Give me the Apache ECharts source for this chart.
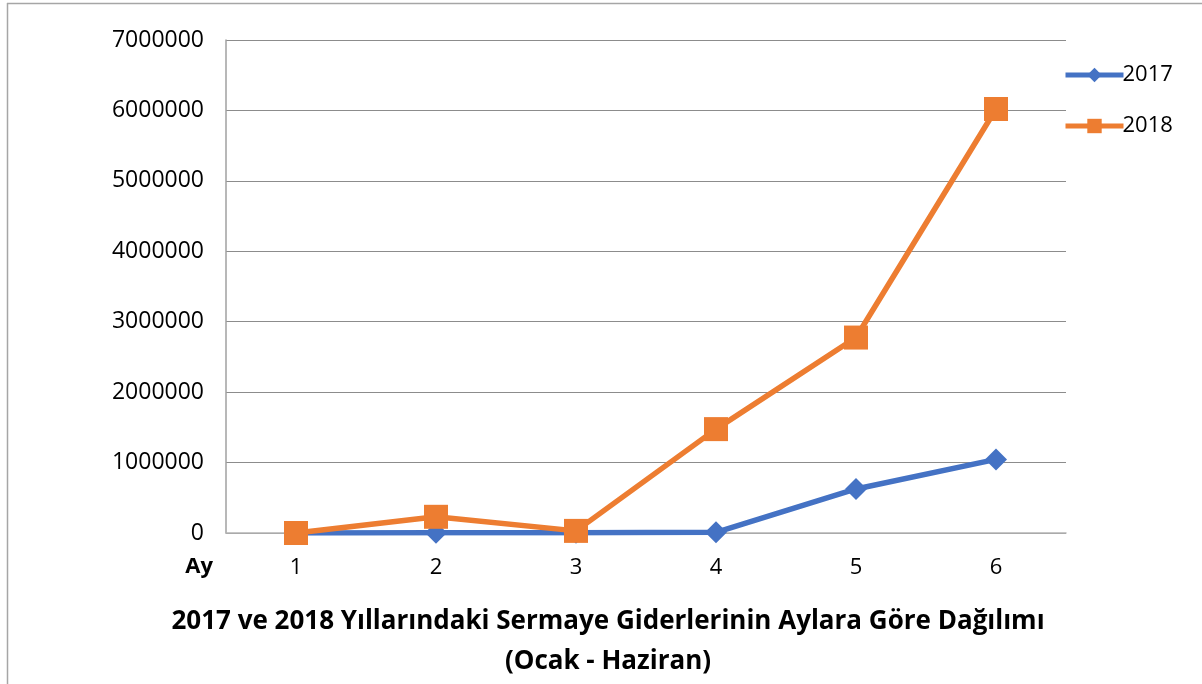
<!DOCTYPE html>
<html>
<head>
<meta charset="utf-8">
<script src="https://cdn.jsdelivr.net/npm/echarts@6/dist/echarts.min.js"></script>
<style>
  html, body { margin: 0; padding: 0; background: #fff; }
  #chart { width: 1202px; height: 684px; }
</style>
</head>
<body>
<div id="chart"></div>
<script>
var months = ['1', '2', '3', '4', '5', '6']
var values2017 = [0, 5000, 5000, 10000, 625000, 1045000]
var values2018 = [0, 230000, 30000, 1475000, 2775000, 6020000]
var yTicks = [0, 1000000, 7000000]

var font = 'Open Sans, Liberation Sans, sans-serif'
var chart = echarts.init(document.getElementById('chart'))
var option = {
  animation: false,
  title: {
    text: '2017 ve 2018 Yıllarındaki Sermaye Giderlerinin Aylara Göre Dağılımı\n(Ocak - Haziran)',
    left: 603,
    top: 597,
    textAlign: 'center',
    textStyle: { fontFamily: font, fontSize: 26, fontWeight: 'bold', color: '#000', lineHeight: 40 }
  },
  legend: {
    orient: 'vertical',
    left: 1058,
    top: 59,
    itemWidth: 58,
    itemHeight: 18,
    itemGap: 29,
    lineStyle: { width: 5 },
    textStyle: { fontFamily: font, fontSize: 22, color: '#000', padding: [0, 0, 0, -6] },
    data: ['2017', '2018']
  },
  grid: { left: 226, right: 136, top: 40, bottom: 151, containLabel: false },
  xAxis: {
    type: 'category',
    data: months,
    boundaryGap: true,
    name: 'Ay',
    nameLocation: 'start',
    nameGap: 13,
    nameTextStyle: { fontFamily: font, fontSize: 22, fontWeight: 'bold', color: '#000', verticalAlign: 'top', padding: [23, 0, 0, 0] },
    axisLine: { lineStyle: { color: '#b4b4b4', width: 1.5 } },
    axisTick: { show: false },
    axisLabel: { margin: 24, fontFamily: font, fontSize: 22, color: '#000' }
  },
  yAxis: {
    type: 'value',
    min: yTicks[0],
    max: yTicks[2],
    interval: yTicks[1],
    axisLine: { show: true, lineStyle: { color: '#a0a0a0', width: 1.5 } },
    axisTick: { show: false },
    axisLabel: {
      margin: 22, fontFamily: font, fontSize: 23, color: '#000',
      formatter: function (v) { return String(v) }
    },
    splitLine: { lineStyle: { color: '#8c8c8c', width: 1 } }
  },
  graphic: [
    { type: 'line', shape: { x1: 7, y1: 3.5, x2: 1202, y2: 3.5 }, style: { stroke: '#a6a6a6', lineWidth: 1.5 }, silent: true },
    { type: 'line', shape: { x1: 7.5, y1: 3, x2: 7.5, y2: 684 }, style: { stroke: '#a6a6a6', lineWidth: 1.5 }, silent: true }
  ],
  series: [
    {
      name: '2017',
      type: 'line',
      data: values2017,
      symbol: 'diamond',
      symbolSize: 22,
      itemStyle: { color: '#4472C4' },
      lineStyle: { color: '#4472C4', width: 5.5 }
    },
    {
      name: '2018',
      type: 'line',
      data: values2018,
      symbol: 'rect',
      symbolSize: 24,
      itemStyle: { color: '#ED7D31' },
      lineStyle: { color: '#ED7D31', width: 5.5 }
    }
  ]
}
chart.setOption(option)
</script>
</body>
</html>
